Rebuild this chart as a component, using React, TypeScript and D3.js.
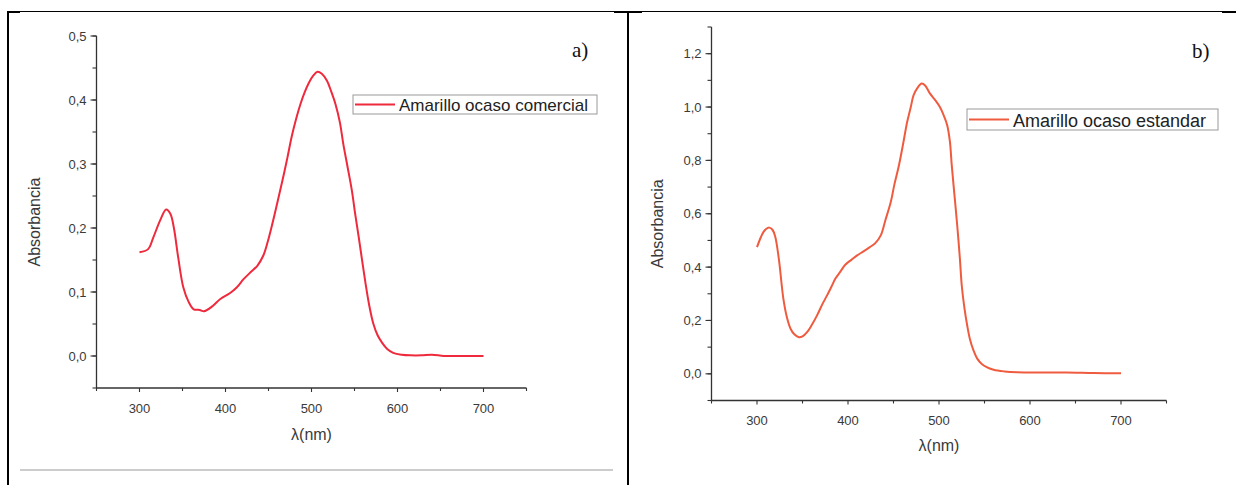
import React from "react";
import * as d3 from "d3";

// Panel a) Amarillo ocaso comercial
const waveA = [300, 310, 316, 324, 331, 336, 340, 345, 351, 357, 363, 370, 375, 385, 394, 405, 413, 421, 430, 437, 444, 449, 454, 460, 466, 472, 477, 482, 487, 492, 497, 502, 507, 512, 518, 523, 528, 533, 537, 542, 547, 551, 555, 559, 563, 567, 572, 577, 582, 588, 595, 605, 615, 628, 640, 654, 670, 685, 700];
const absA = [0.162, 0.167, 0.185, 0.212, 0.229, 0.222, 0.2, 0.154, 0.107, 0.085, 0.073, 0.072, 0.07, 0.078, 0.089, 0.098, 0.107, 0.12, 0.132, 0.141, 0.157, 0.178, 0.204, 0.238, 0.273, 0.31, 0.343, 0.37, 0.393, 0.412, 0.427, 0.438, 0.444, 0.441, 0.43, 0.413, 0.393, 0.365, 0.331, 0.295, 0.258, 0.22, 0.185, 0.148, 0.112, 0.08, 0.05, 0.032, 0.021, 0.011, 0.005, 0.002, 0.001, 0.001, 0.002, 0.0, 0.0, 0.0, 0.0];

// Panel b) Amarillo ocaso estandar
const waveB = [300, 304, 307, 310, 313.5, 317, 320, 324, 329, 333, 337, 341, 346, 350, 355, 360, 366, 372, 377, 382, 386, 392, 397, 404, 410, 417, 424, 430, 436, 441, 447, 451, 456, 461, 465, 469, 472, 476, 481, 485, 490, 496, 501, 505, 509, 512, 514, 517, 520, 523, 525, 528, 531, 534, 538, 542, 547, 553, 560, 572, 586, 610, 640, 670, 700];
const absB = [0.475, 0.51, 0.531, 0.543, 0.548, 0.54, 0.515, 0.431, 0.281, 0.21, 0.168, 0.148, 0.137, 0.14, 0.156, 0.182, 0.219, 0.262, 0.294, 0.328, 0.356, 0.385, 0.409, 0.428, 0.444, 0.459, 0.475, 0.49, 0.519, 0.575, 0.644, 0.71, 0.782, 0.87, 0.944, 1.0, 1.044, 1.07, 1.088, 1.08, 1.051, 1.025, 1.0, 0.97, 0.932, 0.87, 0.782, 0.67, 0.557, 0.43, 0.331, 0.245, 0.181, 0.13, 0.087, 0.057, 0.037, 0.024, 0.015, 0.009, 0.006, 0.005, 0.005, 0.003, 0.002];

const yTicksA = [0, 0.1, 0.2, 0.3, 0.4, 0.5];
const yTicksB = [0, 0.2, 0.4, 0.6, 0.8, 1.0, 1.2];
const xTicks = [300, 400, 500, 600, 700];

const labelA = "Amarillo ocaso comercial";
const labelB = "Amarillo ocaso estandar";
const yTitle = "Absorbancia";
const xTitle = "λ(nm)";

const fmt = (v: number) => d3.format(".1f")(v).replace(".", ",");

type PanelProps = {
  waves: number[];
  abs: number[];
  x0: number; x1: number; y0: number; y1: number;
  yDomain: [number, number];
  yTicks: number[];
  yMinorStep: number;
  color: string;
  label: string;
  tag: string;
  legend: { x: number; y: number; w: number; h: number };
  legendFont: number;
  tagPos: { x: number; y: number };
  yTitleX: number;
  xTitleY: number;
  tickLabelY: number;
};

function Panel(p: PanelProps) {
  const x = d3.scaleLinear().domain([250, 750]).range([p.x0, p.x1]);
  const y = d3.scaleLinear().domain(p.yDomain).range([p.y0, p.y1]);
  const pts: [number, number][] = p.waves.map((w, i) => [w, p.abs[i]]);
  const line = d3
    .line<[number, number]>()
    .x((d) => x(d[0]))
    .y((d) => y(d[1]))
    .curve(d3.curveCatmullRom.alpha(0.5));
  const xMinor = d3.range(250, 751, 50);
  const yMinor = d3.range(p.yDomain[0], p.yDomain[1] + 1e-9, p.yMinorStep);
  const axisColor = "#333";
  const font = "Liberation Sans, Arial, sans-serif";
  return (
    <g>
      {/* axes */}
      <line x1={p.x0} x2={p.x0} y1={p.y0} y2={p.y1} stroke={axisColor} strokeWidth={1.3} />
      <line x1={p.x0} x2={p.x1} y1={p.y0} y2={p.y0} stroke={axisColor} strokeWidth={1.3} />
      {xMinor.map((v) => {
        const major = xTicks.includes(v);
        return (
          <line key={"xm" + v} x1={x(v)} x2={x(v)} y1={p.y0} y2={p.y0 + (major ? 4 : 3)} stroke={axisColor} strokeWidth={1.1} />
        );
      })}
      {yMinor.map((v, i) => (
        <line key={"ym" + i} x1={p.x0 - 4} x2={p.x0} y1={y(v)} y2={y(v)} stroke={axisColor} strokeWidth={1.1} />
      ))}
      {p.yTicks.map((v) => (
        <g key={"yt" + v}>
          <line x1={p.x0 - 6} x2={p.x0} y1={y(v)} y2={y(v)} stroke={axisColor} strokeWidth={1.1} />
          <text x={p.x0 - 10} y={y(v)} dy="0.35em" textAnchor="end" fontFamily={font} fontSize={13} fill="#3a3a3a">
            {fmt(v)}
          </text>
        </g>
      ))}
      {xTicks.map((v) => (
        <text key={"xt" + v} x={x(v)} y={p.tickLabelY} dy="0.35em" textAnchor="middle" fontFamily={font} fontSize={13} fill="#3a3a3a">
          {v}
        </text>
      ))}
      <text
        transform={`translate(${p.yTitleX},${(p.y0 + p.y1) / 2 + 10}) rotate(-90)`}
        textAnchor="middle"
        dy="0.35em"
        fontFamily={font}
        fontSize={16}
        fill="#3a3a3a"
      >
        {yTitle}
      </text>
      <text x={(p.x0 + p.x1) / 2} y={p.xTitleY} dy="0.35em" textAnchor="middle" fontFamily={font} fontSize={16} fill="#3a3a3a">
        {xTitle}
      </text>
      {/* curve */}
      <path d={line(pts) || ""} fill="none" stroke={p.color} strokeWidth={2} strokeLinejoin="round" />
      {/* legend */}
      <rect x={p.legend.x} y={p.legend.y} width={p.legend.w} height={p.legend.h} fill="#fff" stroke="#999" strokeWidth={1} />
      <line
        x1={p.legend.x + 2}
        x2={p.legend.x + 42}
        y1={p.legend.y + p.legend.h / 2}
        y2={p.legend.y + p.legend.h / 2}
        stroke={p.color}
        strokeWidth={2}
      />
      <text x={p.legend.x + 46} y={p.legend.y + p.legend.h / 2 + 1} dy="0.35em" fontFamily={font} fontSize={p.legendFont} fill="#222">
        {p.label}
      </text>
      <text x={p.tagPos.x} y={p.tagPos.y} dy="0.35em" fontFamily="Liberation Serif, Times New Roman, serif" fontSize={21} fill="#111">
        {p.tag}
      </text>
    </g>
  );
}

export default function App() {
  return (
    <svg width={1236} height={485} style={{ position: "absolute", left: 0, top: 0, background: "#fff" }}>
      <rect x={0} y={0} width={1236} height={485} fill="#fff" />
      {/* table borders */}
      <line x1={7} x2={1236} y1={11.5} y2={11.5} stroke="#000" strokeWidth={1} />
      <line x1={7} x2={20} y1={12} y2={12} stroke="#000" strokeWidth={2} />
      <line x1={614} x2={642} y1={12} y2={12} stroke="#000" strokeWidth={2} />
      <line x1={1222} x2={1236} y1={12} y2={12} stroke="#000" strokeWidth={2} />
      <line x1={8} x2={8} y1={11} y2={485} stroke="#000" strokeWidth={2} />
      <line x1={628} x2={628} y1={11} y2={485} stroke="#000" strokeWidth={2} />
      <line x1={20} x2={613} y1={470} y2={470} stroke="#999" strokeWidth={1} />
      <Panel
        waves={waveA}
        abs={absA}
        x0={96.5}
        x1={526.5}
        y0={388}
        y1={36}
        yDomain={[-0.05, 0.5]}
        yTicks={yTicksA}
        yMinorStep={0.05}
        color="#ee2a3c"
        label={labelA}
        tag="a)"
        legend={{ x: 353, y: 95, w: 244, h: 19 }}
        legendFont={17}
        tagPos={{ x: 572, y: 50 }}
        yTitleX={34}
        xTitleY={434}
        tickLabelY={408}
      />
      <Panel
        waves={waveB}
        abs={absB}
        x0={711.5}
        x1={1166.5}
        y0={400.5}
        y1={27}
        yDomain={[-0.1, 1.3]}
        yTicks={yTicksB}
        yMinorStep={0.1}
        color="#ef5b3f"
        label={labelB}
        tag="b)"
        legend={{ x: 967, y: 109, w: 251, h: 21 }}
        legendFont={18}
        tagPos={{ x: 1192, y: 51 }}
        yTitleX={657}
        xTitleY={445}
        tickLabelY={420}
      />
    </svg>
  );
}
